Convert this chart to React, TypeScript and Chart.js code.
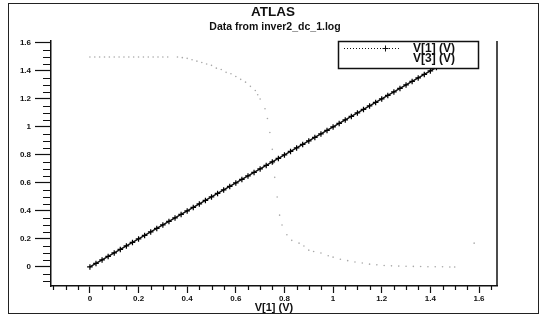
import React, { useEffect, useRef } from "react";
import { Chart, registerables } from "chart.js";

Chart.register(...registerables);

// ---- Data ----
const sweepV1 = [
  0, 0.025, 0.05, 0.075, 0.1, 0.125, 0.15, 0.175, 0.2, 0.225, 0.25, 0.275, 0.3, 0.325, 0.35, 0.375,
  0.4, 0.425, 0.45, 0.475, 0.5, 0.525, 0.55, 0.575, 0.6, 0.625, 0.65, 0.675, 0.7, 0.725, 0.75, 0.775,
  0.8, 0.825, 0.85, 0.875, 0.9, 0.925, 0.95, 0.975, 1, 1.025, 1.05, 1.075, 1.1, 1.125, 1.15, 1.175,
  1.2, 1.225, 1.25, 1.275, 1.3, 1.325, 1.35, 1.375, 1.4, 1.425, 1.45, 1.475, 1.5,
];
const v1Values = [
  0, 0.025, 0.05, 0.075, 0.1, 0.125, 0.15, 0.175, 0.2, 0.225, 0.25, 0.275, 0.3, 0.325, 0.35, 0.375,
  0.4, 0.425, 0.45, 0.475, 0.5, 0.525, 0.55, 0.575, 0.6, 0.625, 0.65, 0.675, 0.7, 0.725, 0.75, 0.775,
  0.8, 0.825, 0.85, 0.875, 0.9, 0.925, 0.95, 0.975, 1, 1.025, 1.05, 1.075, 1.1, 1.125, 1.15, 1.175,
  1.2, 1.225, 1.25, 1.275, 1.3, 1.325, 1.35, 1.375, 1.4, 1.425, 1.45, 1.475, 1.5,
];

const sweepV3 = [
  0, 0.02, 0.04, 0.06, 0.08, 0.1, 0.12, 0.14, 0.16, 0.18, 0.2, 0.22, 0.24, 0.26, 0.28, 0.3, 0.32,
  0.36, 0.38, 0.4, 0.42, 0.44, 0.46, 0.48, 0.5, 0.52, 0.54, 0.56, 0.58, 0.6, 0.62, 0.64, 0.66, 0.68,
  0.69, 0.7, 0.72, 0.73, 0.74, 0.75, 0.755, 0.76, 0.77, 0.78, 0.79, 0.81, 0.83, 0.86, 0.88, 0.9,
  0.92, 0.95, 0.98, 1.0, 1.03, 1.06, 1.09, 1.12, 1.15, 1.18, 1.21, 1.24, 1.27, 1.3, 1.33, 1.36,
  1.39, 1.42, 1.45, 1.48, 1.5, 1.58,
];
const v3Values = [
  1.5, 1.5, 1.5, 1.5, 1.5, 1.5, 1.5, 1.5, 1.5, 1.5, 1.5, 1.5, 1.5, 1.5, 1.5, 1.5, 1.5,
  1.5, 1.495, 1.49, 1.48, 1.47, 1.46, 1.45, 1.44, 1.42, 1.41, 1.39, 1.38, 1.36, 1.34, 1.32, 1.29, 1.26,
  1.23, 1.2, 1.13, 1.06, 0.96, 0.84, 0.74, 0.64, 0.5, 0.37, 0.3, 0.23, 0.19, 0.17, 0.15, 0.12,
  0.11, 0.1, 0.08, 0.07, 0.055, 0.045, 0.035, 0.028, 0.02, 0.015, 0.01, 0.008, 0.006, 0.005, 0.004, 0.003,
  0.002, 0.001, 0.001, 0, 0, 0.17,
];

const xMajorTicks = [0, 0.2, 0.4, 0.6, 0.8, 1, 1.2, 1.4, 1.6];
const yMajorTicks = [0, 0.2, 0.4, 0.6, 0.8, 1, 1.2, 1.4, 1.6];

const seriesLabels = ["V[1] (V)", "V[3] (V)"];
const chartTitle = "ATLAS";
const chartSubtitle = "Data from inver2_dc_1.log";
const xAxisTitle = "V[1] (V)";

const X_MIN = -0.16;
const X_MAX = 1.674;
const Y_MIN = -0.136;
const Y_MAX = 1.614;

function minorTicks(min: number, max: number, step: number, majorStep: number) {
  const out: number[] = [];
  const start = Math.ceil(min / step - 1e-9);
  const end = Math.floor(max / step + 1e-9);
  for (let i = start; i <= end; i++) {
    const v = i * step;
    const r = v / majorStep;
    if (Math.abs(r - Math.round(r)) > 1e-6) out.push(v);
  }
  return out;
}

const FONT = "'Liberation Sans', Arial, sans-serif";

const decorPlugin = {
  id: "decor",
  afterDatasetsDraw(chart: any) {
    const ctx = chart.ctx as CanvasRenderingContext2D;
    const area = chart.chartArea;
    const xs = chart.scales.x;
    const ys = chart.scales.y;
    ctx.save();
    ctx.strokeStyle = "#111";
    // right border of plot
    ctx.lineWidth = 1.5;
    ctx.beginPath();
    ctx.moveTo(area.right, area.top);
    ctx.lineTo(area.right, area.bottom);
    ctx.stroke();
    // minor ticks
    ctx.lineWidth = 1.2;
    ctx.beginPath();
    for (const v of minorTicks(X_MIN, X_MAX, 0.05, 0.2)) {
      const px = Math.round(xs.getPixelForValue(v)) + 0.5;
      ctx.moveTo(px, area.bottom);
      ctx.lineTo(px, area.bottom + 4);
    }
    for (const v of minorTicks(Y_MIN, Y_MAX, 0.05, 0.2)) {
      const py = Math.round(ys.getPixelForValue(v)) + 0.5;
      ctx.moveTo(area.left, py);
      ctx.lineTo(area.left - 8, py);
    }
    ctx.stroke();

    // legend box (opaque, over the data)
    const lx = 338, ly = 41, lw = 140, lh = 27;
    ctx.fillStyle = "#fff";
    ctx.fillRect(lx, ly, lw, lh);
    ctx.lineWidth = 1.5;
    ctx.strokeRect(lx + 0.5, ly + 0.5, lw, lh);
    // sample for V[1]
    ctx.lineWidth = 1;
    ctx.setLineDash([1, 2]);
    ctx.beginPath();
    ctx.moveTo(344, 48.5);
    ctx.lineTo(400, 48.5);
    ctx.stroke();
    ctx.setLineDash([]);
    ctx.beginPath();
    ctx.moveTo(385.5, 45.5);
    ctx.lineTo(385.5, 51.5);
    ctx.moveTo(382.5, 48.5);
    ctx.lineTo(388.5, 48.5);
    ctx.stroke();
    ctx.fillStyle = "#111";
    ctx.font = `bold 12px ${FONT}`;
    ctx.textAlign = "left";
    ctx.textBaseline = "middle";
    ctx.fillText(seriesLabels[0], 413, 49);
    ctx.fillText(seriesLabels[1], 413, 59);
    ctx.restore();
  },
  afterDraw(chart: any) {
    const ctx = chart.ctx as CanvasRenderingContext2D;
    ctx.save();
    ctx.strokeStyle = "#222";
    ctx.lineWidth = 1;
    ctx.strokeRect(8.5, 3.5, 530, 310);
    ctx.fillStyle = "#111";
    ctx.textAlign = "center";
    ctx.textBaseline = "middle";
    ctx.font = `bold 13.5px ${FONT}`;
    ctx.fillText(chartTitle, 273, 12);
    ctx.font = `bold 10.5px ${FONT}`;
    ctx.fillText(chartSubtitle, 275, 27);
    ctx.restore();
  },
};

export default function App() {
  const ref = useRef<HTMLCanvasElement | null>(null);
  useEffect(() => {
    if (!ref.current) return;
    const v1 = sweepV1.map((x, i) => ({ x, y: v1Values[i] }));
    const v3 = sweepV3.map((x, i) => ({ x, y: v3Values[i] }));
    const chart = new Chart(ref.current, {
      type: "scatter",
      data: {
        datasets: [
          {
            label: seriesLabels[0],
            data: v1,
            showLine: true,
            borderColor: "#111",
            borderWidth: 1.5,
            pointStyle: "cross",
            pointRadius: 2.8,
            pointBorderColor: "#000",
            pointBorderWidth: 1.2,
            pointBackgroundColor: "#000",
          },
          {
            label: seriesLabels[1],
            data: v3,
            showLine: false,
            pointStyle: "circle",
            pointRadius: 0.8,
            pointBorderWidth: 0,
            pointBackgroundColor: "#a8a8a8",
          },
        ],
      },
      options: {
        responsive: false,
        animation: false,
        layout: { padding: { top: 41, right: 48, left: 0, bottom: 0 } },
        plugins: {
          legend: { display: false },
          title: { display: false },
          tooltip: { enabled: false },
        },
        scales: {
          x: {
            type: "linear",
            min: X_MIN,
            max: X_MAX,
            afterBuildTicks: (axis: any) => {
              axis.ticks = xMajorTicks.map((value) => ({ value }));
            },
            afterFit: (axis: any) => {
              axis.height = 36;
            },
            ticks: {
              color: "#111",
              font: { family: FONT, size: 8, weight: "bold" },
              padding: 1,
              maxRotation: 0,
              autoSkip: false,
              callback: (v: any) => String(Number(Number(v).toFixed(1))),
            },
            grid: {
              drawOnChartArea: false,
              drawTicks: true,
              tickLength: 7,
              tickWidth: 1.2,
              tickColor: "#111",
            },
            border: { display: true, color: "#111", width: 1.5 },
            title: {
              display: true,
              text: xAxisTitle,
              color: "#111",
              font: { family: FONT, size: 11, weight: "bold" },
              padding: { top: 0, bottom: 7 },
            },
          },
          y: {
            type: "linear",
            min: Y_MIN,
            max: Y_MAX,
            afterBuildTicks: (axis: any) => {
              axis.ticks = yMajorTicks.map((value) => ({ value }));
            },
            afterFit: (axis: any) => {
              axis.width = 51;
            },
            ticks: {
              color: "#111",
              font: { family: FONT, size: 8, weight: "bold" },
              padding: 4,
              autoSkip: false,
              callback: (v: any) => String(Number(Number(v).toFixed(1))),
            },
            grid: {
              drawOnChartArea: false,
              drawTicks: true,
              tickLength: 16,
              tickWidth: 1.2,
              tickColor: "#111",
            },
            border: { display: true, color: "#111", width: 1.5 },
          },
        },
      },
      plugins: [decorPlugin],
    });
    return () => chart.destroy();
  }, []);
  return (
    <div style={{ position: "absolute", left: 0, top: 0, width: 545, height: 322, background: "#fff" }}>
      <canvas ref={ref} width={545} height={322} style={{ display: "block", width: 545, height: 322 }} />
    </div>
  );
}
